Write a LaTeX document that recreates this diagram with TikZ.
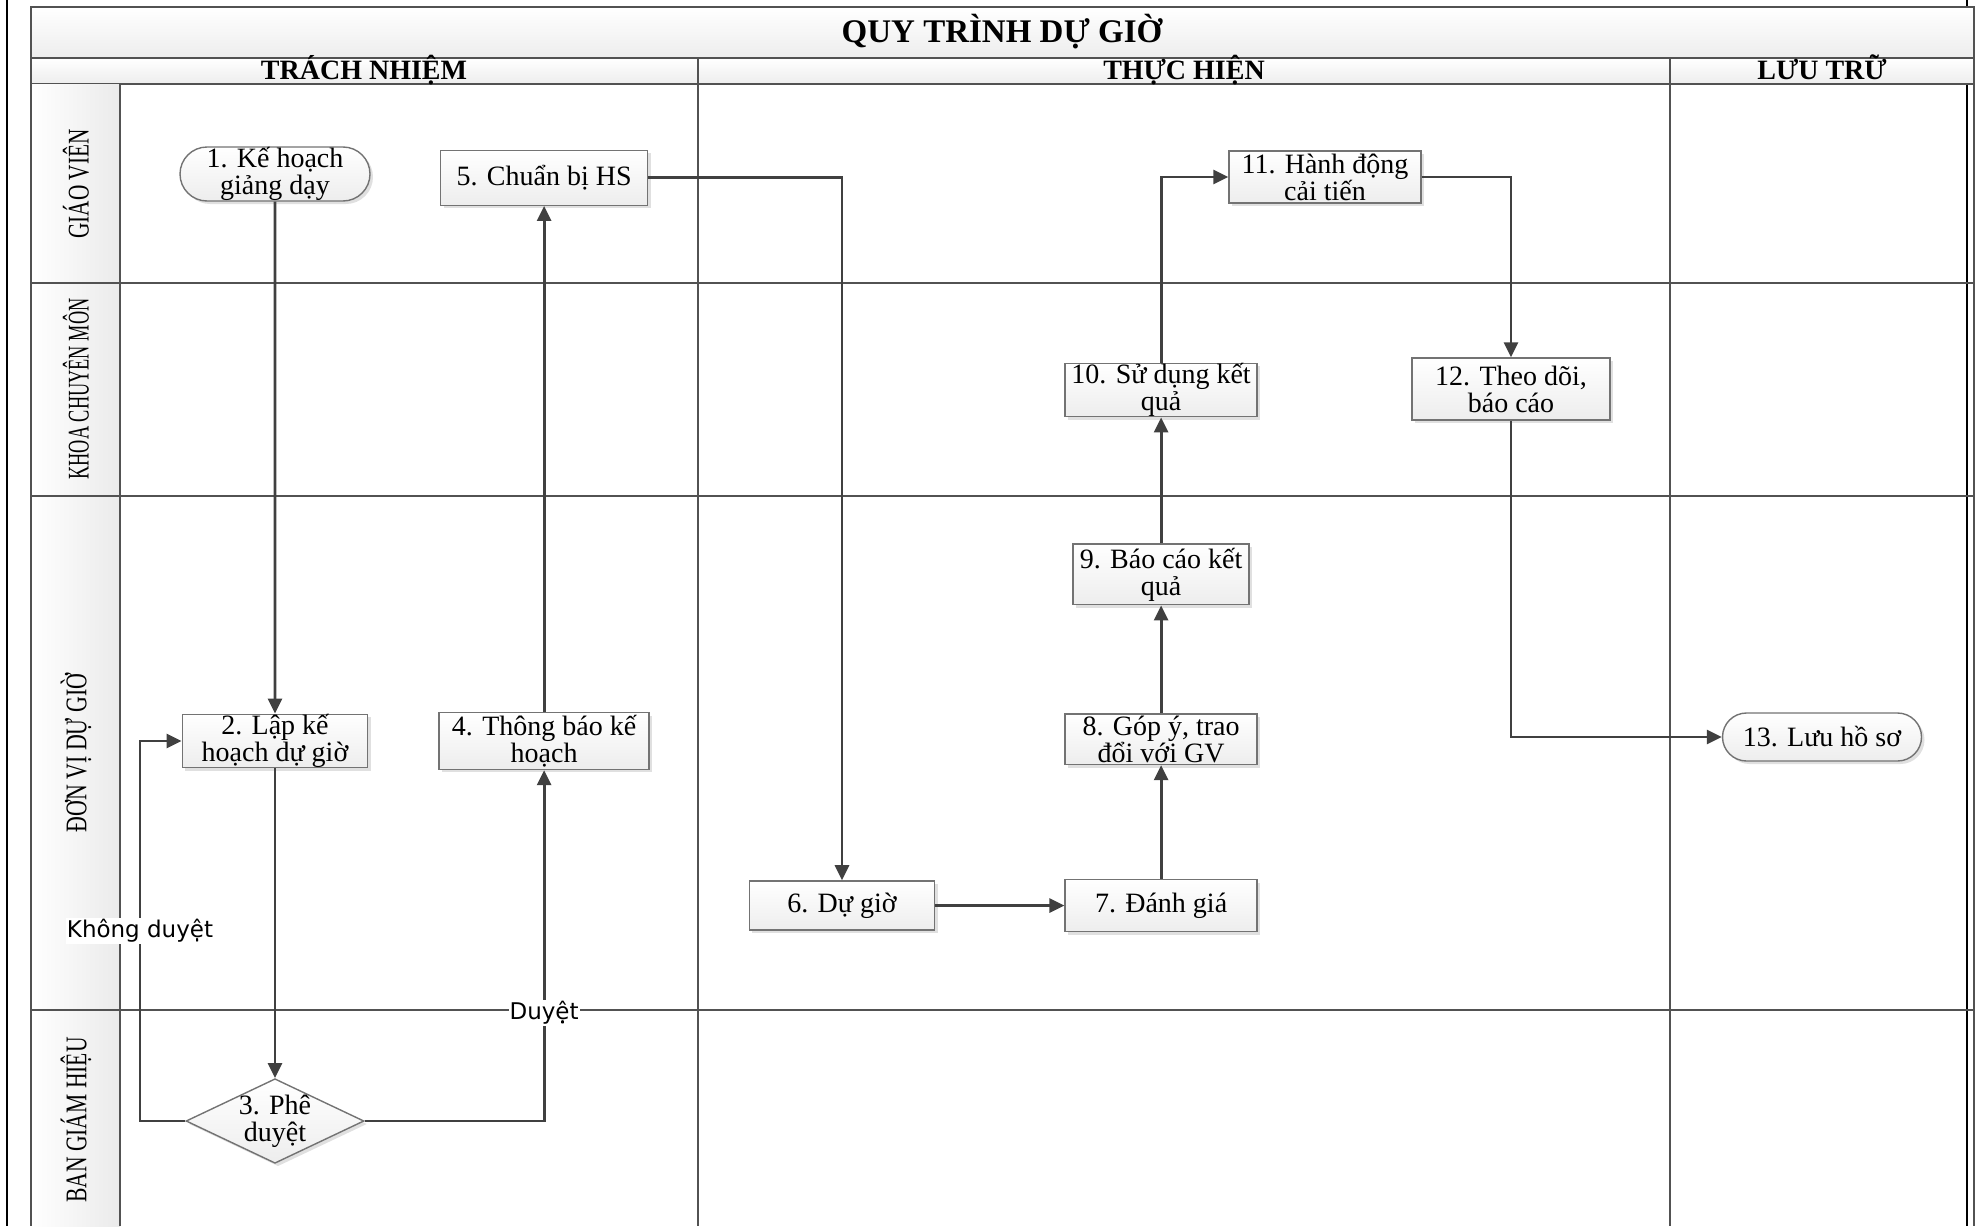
\documentclass[tikz,border=0pt]{standalone}
\usepackage{fontspec}
\usepackage{graphicx}
\setmainfont{Liberation Serif}
\newfontfamily\labelfont{DejaVu Sans}
\usetikzlibrary{arrows.meta,positioning,shapes.geometric,shapes.misc,shadows}

\colorlet{framegray}{black!68}
\colorlet{linegray}{black!75}

\begin{document}
\begin{tikzpicture}[
      x=0.5pt, y=0.5pt,
      stepbox/.style={
         rectangle,
         draw=black!55,
         line width=0.7pt,
         top color=white,
         bottom color=black!7,
         drop shadow={shadow xshift=1.5pt,shadow yshift=-1.5pt,fill=black!12,opacity=1},
         align=center,
         inner xsep=1pt,
         inner ysep=0pt,
         font=\fontsize{14pt}{13.5pt}\selectfont},
      endbox/.style={stepbox,rounded rectangle},
      decision/.style={stepbox,diamond,inner sep=0pt},
      flow/.style={draw=linegray,line width=1.4pt,-{Triangle[length=7.5pt,width=7pt]}},
      edgelabel/.style={fill=white,inner sep=0.5pt,font=\labelfont\fontsize{11.5pt}{12pt}\selectfont},
      lanetext/.style={rotate=90,font=\fontsize{15pt}{15pt}\selectfont},
      headtext/.style={anchor=base,font=\bfseries\fontsize{14pt}{14pt}\selectfont},
      lane/.style={draw=framegray,line width=0.8pt}
      ]
      \useasboundingbox (0,0) rectangle (1979,-1226);

      % outer black rules
      \draw[line width=1.3pt] (7,0) -- (7,-1226);
      \draw[line width=1.3pt] (1967,0) -- (1967,-1226);

      % title and column headers
      \draw[lane,top color=white,bottom color=black!7] (31,-7) rectangle (1974,-58);
      \node[anchor=base,font=\bfseries\fontsize{16.5pt}{16.5pt}\selectfont] (title) at (1002,-42) {QUY TRÌNH DỰ GIỜ};
      \draw[lane,top color=white,bottom color=black!7] (31,-58) rectangle (1974,-84);
      \node[headtext] (h1) at (364,-79) {TRÁCH NHIỆM};
      \node[headtext] (h2) at (1184,-79) {THỰC HIỆN};
      \node[headtext] (h3) at (1822,-79) {LƯU TRỮ};

      % swim lanes
      \shade[left color=white,right color=black!8] (31,-84) rectangle (120,-1226);
      \draw[lane] (31,-84) -- (31,-1226) (120,-84) -- (120,-1226)
                  (698,-58) -- (698,-1226) (1670,-58) -- (1670,-1226)
                  (1974,-84) -- (1974,-1226);
      \foreach \y in {283,496,1010}
         \draw[lane] (31,-\y) -- (1974,-\y);
      \foreach \y/\sx/\txt in {184/0.71/GIÁO VIÊN, 389/0.61/KHOA CHUYÊN MÔN,
                               753/0.73/ĐƠN VỊ DỰ GIỜ, 1120/0.72/BAN GIÁM HIỆU}
         \node[lanetext] (lane\y) at (76,-\y) {\scalebox{\sx}[1]{\txt}};

      % steps
      \node[endbox,minimum width=97pt,minimum height=27pt] (n1) at (275,-174) {1. Kế hoạch\\giảng dạy};
      \node[stepbox,minimum width=92.7pt,minimum height=25.2pt] (n2) at (275,-741) {2. Lập kế\\hoạch dự giờ};
      \node[decision,minimum width=89pt,minimum height=42.3pt] (n3) at (275,-1121) {};
      \node[align=center,font=\fontsize{14pt}{13.5pt}\selectfont] (n3txt) at (n3) {3. Phê\\duyệt};
      \node[stepbox,minimum width=105pt,minimum height=28.4pt,right=35pt of n2] (n4) {4. Thông báo kế\\hoạch};
      \node[stepbox,minimum width=103.5pt,minimum height=27.5pt,above=253pt of n4] (n5) {5. Chuẩn bị HS};
      \node[stepbox,minimum width=92.7pt,minimum height=24.6pt] (n6) at (842,-905.5) {6. Dự giờ};
      \node[stepbox,minimum width=96pt,minimum height=26pt,right=64.5pt of n6] (n7) {7. Đánh giá};
      \node[stepbox,minimum width=96pt,minimum height=25.2pt,above=56.8pt of n7] (n8) {8. Góp ý, trao\\đổi với GV};
      \node[stepbox,minimum width=88pt,minimum height=30.3pt,above=54pt of n8] (n9) {9. Báo cáo kết\\quả};
      \node[stepbox,minimum width=96pt,minimum height=26.5pt,above=63pt of n9] (n10) {10. Sử dụng kết\\quả};
      \node[stepbox,minimum width=96pt,minimum height=26pt] (n11) at (1325,-177) {11. Hành động\\cải tiến};
      \node[stepbox,minimum width=99pt,minimum height=31pt] (n12) at (1511,-389) {12. Theo dõi,\\báo cáo};
      \node[endbox,minimum width=101.5pt,minimum height=24pt] (n13) at (1822,-737) {13. Lưu hồ sơ};

      % connectors
      \coordinate (back) at (140,-1121);
      \draw[flow] (n1) -- (n2);
      \draw[flow] (n2) -- (n3);
      \draw[flow] (n3.west) -- (back) |- node[edgelabel,pos=0.25] {Không duyệt} (n2.west);
      \draw[flow] (n3) -| node[edgelabel,pos=0.654] {Duyệt} (n4);
      \draw[flow] (n4) -- (n5);
      \draw[flow] (n5) -| (n6);
      \foreach \i/\j in {n6/n7,n7/n8,n8/n9,n9/n10}
         \draw[flow] (\i) -- (\j);
      \draw[flow] (n10) |- (n11);
      \draw[flow] (n11) -| (n12);
      \draw[flow] (n12) |- (n13);

\end{tikzpicture}
\end{document}
